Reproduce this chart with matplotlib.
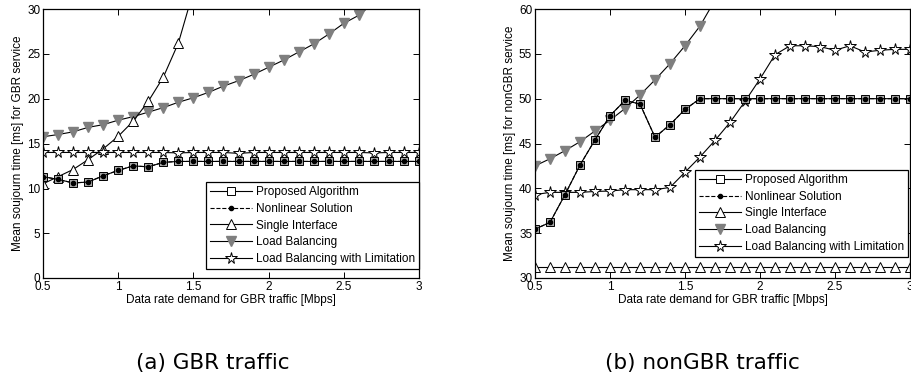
import matplotlib
matplotlib.use("Agg")
import matplotlib.pyplot as plt
from matplotlib.lines import Line2D
import numpy as np

plt.rcParams['font.family'] = ['Liberation Sans', 'DejaVu Sans']

# data rate demand for GBR traffic [Mbps]
rate = [0.5, 0.6, 0.7, 0.8, 0.9, 1.0, 1.1, 1.2, 1.3, 1.4, 1.5, 1.6, 1.7,
        1.8, 1.9, 2.0, 2.1, 2.2, 2.3, 2.4, 2.5, 2.6, 2.7, 2.8, 2.9, 3.0]

# (a) GBR service delay [ms]
gbr_proposed = [11.3, 11.0, 10.6, 10.7, 11.4, 12.0, 12.5, 12.4, 12.9, 13.0, 13.0, 13.0, 13.0,
                13.0, 13.0, 13.0, 13.0, 13.0, 13.0, 13.0, 13.0, 13.0, 13.0, 13.0, 13.0, 13.0]
gbr_nonlinear = gbr_proposed
gbr_single = [10.5, 11.3, 12.1, 13.2, 14.4, 15.8, 17.5, 19.7, 22.4, 26.2, 32.0, 40.0]
gbr_balancing = [15.75, 16.0, 16.3, 16.8, 17.1, 17.6, 18.0, 18.5, 19.0, 19.6, 20.1, 20.7, 21.4,
                 22.0, 22.7, 23.5, 24.3, 25.2, 26.1, 27.2, 28.4, 29.3, 30.7, 32.2]
gbr_limited = [14.0, 14.0, 14.0, 14.0, 14.0, 14.0, 14.0, 14.0, 14.0, 13.95, 14.0, 14.0, 14.0,
               13.9, 14.0, 14.0, 14.0, 14.0, 14.0, 14.0, 14.0, 14.0, 13.95, 14.0, 14.0, 14.0]

# (b) nonGBR service delay [ms]
ngbr_proposed = [35.45, 36.2, 39.3, 42.6, 45.4, 48.1, 49.8, 49.4, 45.7, 47.1, 48.8, 50.0, 50.0,
                 50.0, 50.0, 50.0, 50.0, 50.0, 50.0, 50.0, 50.0, 50.0, 50.0, 50.0, 50.0, 50.0]
ngbr_nonlinear = ngbr_proposed
ngbr_single = [31.25] * 26
ngbr_balancing = [42.5, 43.3, 44.2, 45.2, 46.4, 47.6, 48.9, 50.4, 52.1, 53.9, 55.9, 58.1, 61.0,
                  64.0]
ngbr_limited = [39.3, 39.55, 39.55, 39.55, 39.65, 39.7, 39.85, 39.85, 39.85, 40.1, 41.8, 43.5, 45.35,
                47.35, 49.7, 52.2, 54.9, 55.9, 55.9, 55.8, 55.4, 55.9, 55.2, 55.4, 55.5, 55.5]

labels = ['Proposed Algorithm', 'Nonlinear Solution', 'Single Interface',
          'Load Balancing', 'Load Balancing with Limitation']

LW = 0.8
FS = 8.5

# marker styles shared by plot lines and legend handles
sty_bal = dict(color='black', lw=LW, marker='v', ms=6.5, mfc='#7f7f7f', mec='#7f7f7f')
sty_single = dict(color='black', lw=LW, marker='^', ms=7, mfc='white', mec='black', mew=0.7)
sty_lim = dict(color='black', lw=LW, marker='*', ms=8.5, mfc='white', mec='black', mew=0.7)
sty_nonlin = dict(color='black', lw=LW, ls='--', marker='o', ms=3, mfc='black', mec='black')


def draw_panel(ax, proposed, nonlinear, single, balancing, limited, ylim, yticks, ylabel, leg_anchor):
    x = np.array(rate)
    ax.plot(x[:len(balancing)], balancing, **sty_bal)
    ax.plot(x[:len(single)], single, **sty_single)
    ax.plot(x[:len(limited)], limited, **sty_lim)
    ax.plot(x[:len(proposed)], proposed, '-', color='black', lw=LW, marker='s', ms=6,
            mfc='#a8a8a8', mec='black', mew=0.7)
    ax.plot(x[:len(nonlinear)], nonlinear, **sty_nonlin)

    ax.set_xlim(0.5, 3)
    ax.set_ylim(*ylim)
    ax.set_xticks([0.5, 1, 1.5, 2, 2.5, 3])
    ax.set_xticklabels(['0.5', '1', '1.5', '2', '2.5', '3'])
    ax.set_yticks(yticks)
    ax.tick_params(direction='in', top=True, right=True, length=4, width=0.7,
                   labelsize=FS, pad=2)
    for sp in ax.spines.values():
        sp.set_linewidth(0.9)
    ax.set_xlabel('Data rate demand for GBR traffic [Mbps]', fontsize=FS, labelpad=1)
    ax.set_ylabel(ylabel, fontsize=FS, labelpad=2)

    handles = [
        Line2D([], [], color='black', lw=LW, marker='s', ms=6, mfc='white', mec='black', mew=0.7),
        Line2D([], [], **sty_nonlin),
        Line2D([], [], **sty_single),
        Line2D([], [], **sty_bal),
        Line2D([], [], **sty_lim),
    ]
    leg = ax.legend(handles, labels, loc='lower right', bbox_to_anchor=leg_anchor,
                    borderaxespad=0, fontsize=FS, fancybox=False, framealpha=1,
                    edgecolor='black', handlelength=3.6, handletextpad=0.3,
                    labelspacing=0.4, borderpad=0.35)
    leg.get_frame().set_linewidth(0.9)


fig = plt.figure(figsize=(9.11, 3.8), dpi=100)
ax1 = fig.add_axes([43 / 911, 1 - 278 / 380, 376 / 911, 269 / 380])
ax2 = fig.add_axes([535 / 911, 1 - 278 / 380, 375 / 911, 269 / 380])

draw_panel(ax1, gbr_proposed, gbr_nonlinear, gbr_single, gbr_balancing, gbr_limited,
           (0, 30), [0, 5, 10, 15, 20, 25, 30], 'Mean soujourn time [ms] for GBR service',
           (1.0, 0.033))
draw_panel(ax2, ngbr_proposed, ngbr_nonlinear, ngbr_single, ngbr_balancing, ngbr_limited,
           (30, 60), [30, 35, 40, 45, 50, 55, 60], 'Mean soujourn time [ms] for nonGBR service',
           (0.995, 0.078))

fig.text(213 / 911, 1 - 363 / 380, '(a) GBR traffic', ha='center', va='center',
         fontsize=15.5, family='DejaVu Sans')
fig.text(702 / 911, 1 - 363 / 380, '(b) nonGBR traffic', ha='center', va='center',
         fontsize=15.5, family='DejaVu Sans')

fig.savefig('out.png', dpi=100)
